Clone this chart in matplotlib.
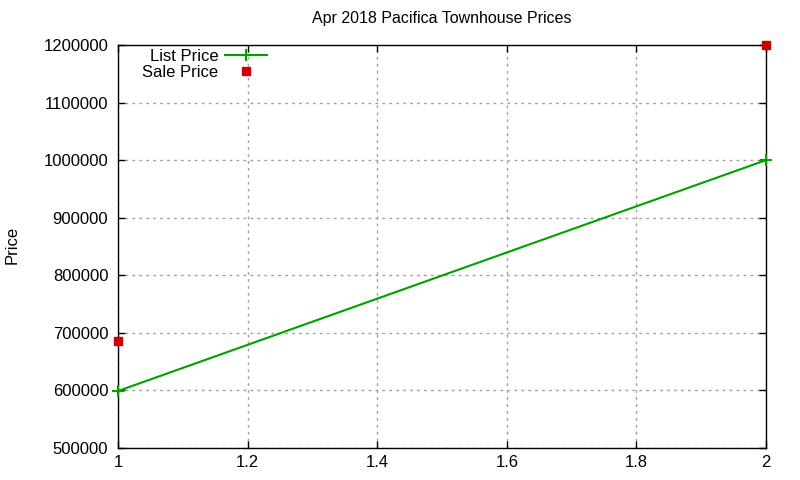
import matplotlib
matplotlib.use("Agg")
import matplotlib.pyplot as plt

x_vals = [1, 2]
list_price = [599000, 1000000]
sale_price = [685000, 1200000]
title = "Apr 2018 Pacifica Townhouse Prices"
ylabel = "Price"
yticks = [500000, 600000, 700000, 800000, 900000, 1000000, 1100000, 1200000]
xticks = [1, 1.2, 1.4, 1.6, 1.8, 2]

plt.rcParams['font.family'] = ['Liberation Sans', 'DejaVu Sans']
fig = plt.figure(figsize=(8, 4.8), dpi=100)
ax = fig.add_axes([118/800, 1 - 448/480, (766-118)/800, (448-45)/480])

ax.plot(x_vals, list_price, color='#00a000', lw=1.5, marker='+', ms=8, mew=1.5,
        label='List Price', clip_on=False, zorder=3)
ax.plot(x_vals, sale_price, color='#cc0000', ls='none', marker='s', ms=6,
        label='Sale Price', clip_on=False, zorder=4)

ax.set_xlim(1, 2)
ax.set_ylim(500000, 1200000)
ax.set_xticks(xticks)
ax.set_xticklabels([f"{v:g}" for v in xticks])
ax.set_yticks(yticks)
ax.set_yticklabels([str(v) for v in yticks])
ax.tick_params(direction='in', length=5, width=1, labelsize=12, top=True, right=True, color='black')
ax.tick_params(axis='x', pad=5)
ax.tick_params(axis='y', pad=7)
ax.grid(True, color='#a0a0a0', ls=(0, (2, 3)), lw=1)
for s in ax.spines.values():
    s.set_linewidth(1)
    s.set_color('black')

ax.set_title(title, fontsize=11.5, pad=16)
fig.text(12/800, 1 - 245/480, ylabel, rotation=90, va='center', ha='center', fontsize=12)

leg = ax.legend(loc='upper right', bbox_to_anchor=((267-118)/648, 0.99), frameon=False, markerfirst=False,
                fontsize=12, handlelength=2.5, handletextpad=0.42, labelspacing=0.05,
                borderaxespad=0, borderpad=0)
fig.savefig('out.png', dpi=100)
